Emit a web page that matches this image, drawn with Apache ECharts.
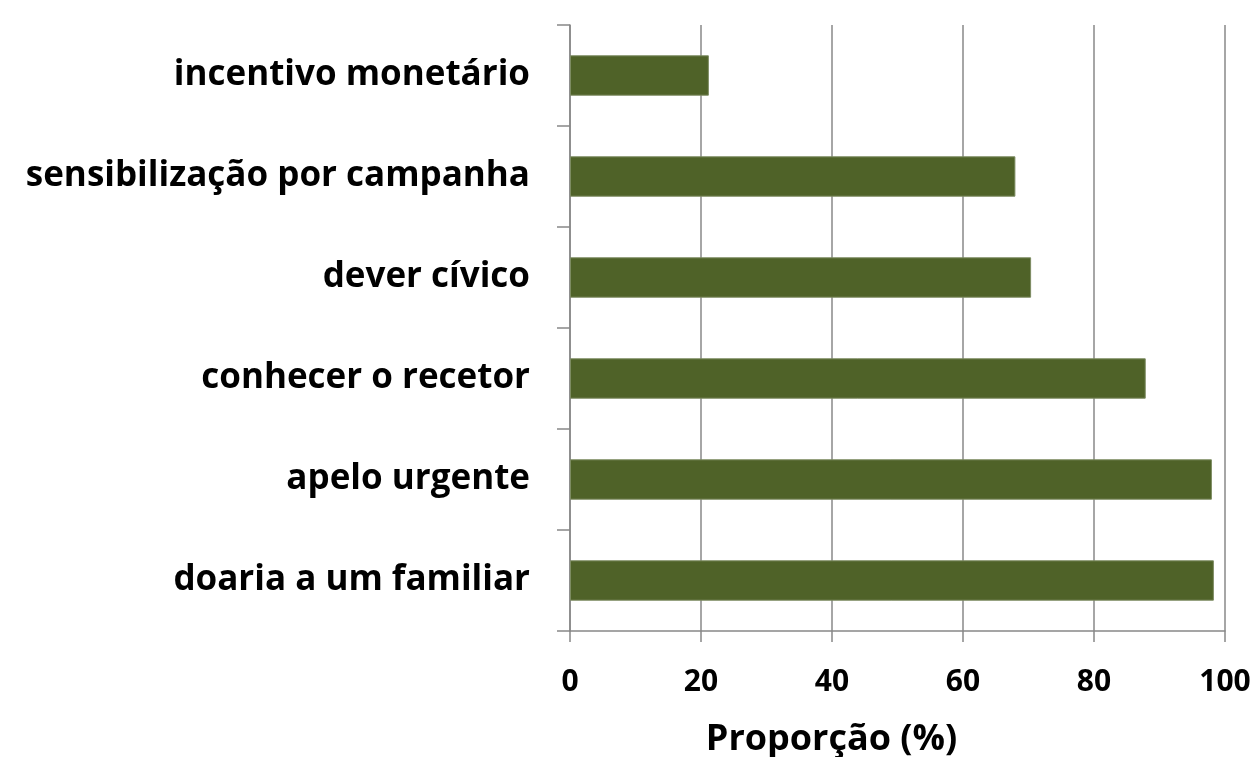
<!DOCTYPE html>
<html>
<head>
<meta charset="utf-8">
<script src="https://cdn.jsdelivr.net/npm/echarts@6/dist/echarts.min.js"></script>
<style>
  html, body { margin: 0; padding: 0; background: #fff; }
  #main { width: 1257px; height: 757px; }
</style>
</head>
<body>
<div id="main"></div>
<script>
// top to bottom, as in the picture
const categories = [
  'incentivo monetário',
  'sensibilização por campanha',
  'dever cívico',
  'conhecer o recetor',
  'apelo urgente',
  'doaria a um familiar'
]
const proportions = [21.2, 68.0, 70.4, 87.9, 98.0, 98.3]
const xTicks = [0, 20, 40, 60, 80, 100]

const axisGrey = '#888888'
const font = 'Open Sans'

const chart = echarts.init(document.getElementById('main'))
const option = {
  animation: false,
  grid: { left: 570, right: 32, top: 25, bottom: 126, containLabel: false, outerBoundsMode: 'none' },
  xAxis: {
    type: 'value',
    min: xTicks[0],
    max: xTicks[xTicks.length - 1],
    interval: 20,
    name: 'Proporção (%)',
    nameLocation: 'middle',
    nameGap: 91,
    nameTextStyle: {
      fontFamily: font, fontWeight: 'bold', fontSize: 36, color: '#000',
      padding: [0, 132, 0, 0]
    },
    axisLine: { show: true, lineStyle: { color: axisGrey, width: 1.5 } },
    axisTick: { show: true, length: 11, lineStyle: { color: axisGrey, width: 1.5 } },
    axisLabel: { margin: 36, fontFamily: font, fontWeight: 'bold', fontSize: 30, color: '#000' },
    splitLine: { show: true, lineStyle: { color: axisGrey, width: 1.5 } }
  },
  yAxis: {
    type: 'category',
    inverse: true,
    data: categories,
    axisLine: { show: true, lineStyle: { color: axisGrey, width: 1.5 } },
    axisTick: { show: true, length: 13, lineStyle: { color: axisGrey, width: 1.5 } },
    axisLabel: { margin: 40, fontFamily: font, fontWeight: 'bold', fontSize: 35, color: '#000' },
    splitLine: { show: false }
  },
  series: [
    {
      type: 'bar',
      data: proportions,
      barCategoryGap: '60%',
      itemStyle: { color: '#4f6228', borderColor: '#7d8c62', borderWidth: 1 }
    }
  ]
}
option && chart.setOption(option)
</script>
</body>
</html>
